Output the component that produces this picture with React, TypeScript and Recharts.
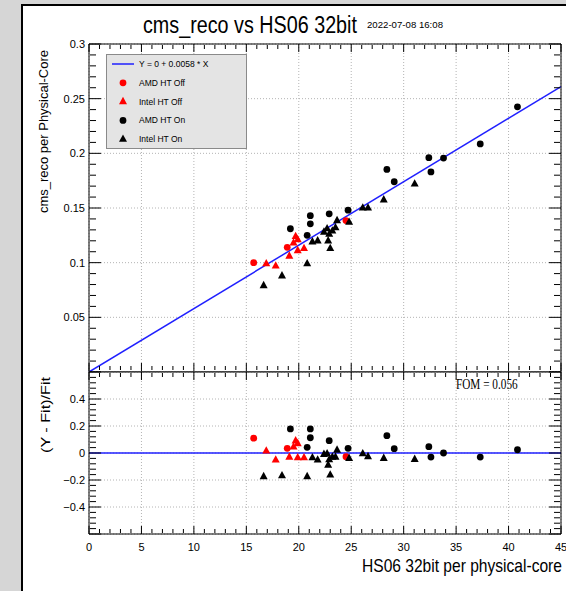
import React from 'react';
import { ScatterChart, Scatter, XAxis, YAxis, CartesianGrid, ReferenceLine } from 'recharts';

const SANS = '"Liberation Sans", Arial, Helvetica, sans-serif';
const SERIF = '"Liberation Serif", "Times New Roman", serif';

// HS06 32bit per physical-core (x), cms_reco per physical core (y), (Y - Fit)/Fit (res)
const amdOffX = [15.7, 18.9, 24.5];
const amdOffY = [0.1, 0.114, 0.1385];
const amdOffRes = [0.11, 0.035, -0.027];

const intelOffX = [16.9, 17.8, 19.1, 19.5, 19.7, 19.9, 19.9, 20.5];
const intelOffY = [0.099, 0.097, 0.106, 0.118, 0.124, 0.121, 0.111, 0.113];
const intelOffRes = [0.015, -0.052, -0.03, 0.045, 0.09, 0.07, -0.035, -0.035];

const amdOnX = [19.2, 20.8, 21.1, 21.1, 22.9, 24.7, 28.4, 29.1, 32.4, 32.6, 33.8, 37.3, 40.85];
const amdOnY = [0.131, 0.125, 0.143, 0.1355, 0.1447, 0.148, 0.1853, 0.174, 0.196, 0.183, 0.1957, 0.2086, 0.2425];
const amdOnRes = [0.178, 0.042, 0.178, 0.113, 0.091, 0.035, 0.128, 0.032, 0.047, -0.03, 0.0, -0.03, 0.024];

const intelOnX = [16.65, 18.4, 20.8, 21.3, 21.8, 22.4, 22.7, 22.8, 22.9, 23.0, 23.2, 23.5, 23.65, 24.8, 26.1, 26.6, 28.1, 31.05];
const intelOnY = [0.079, 0.088, 0.099, 0.119, 0.12, 0.128, 0.131, 0.12, 0.126, 0.113, 0.129, 0.132, 0.1385, 0.137, 0.15, 0.15, 0.1575, 0.172];
const intelOnRes = [-0.175, -0.168, -0.175, -0.035, -0.052, -0.01, -0.005, -0.09, -0.05, -0.163, -0.03, -0.03, 0.022, -0.04, -0.005, -0.027, -0.04, -0.047];

const fitSlope = 0.0058;
const fitOffset = 0;
const fom = 0.056;

const xDomain = [0, 45];
const xMajor = [0, 5, 10, 15, 20, 25, 30, 35, 40, 45];
const xMinor = Array.from({ length: 46 }, (_, i) => i).filter((v) => v % 5 !== 0);

const topDomain = [0, 0.3];
const topMajor = [0, 0.05, 0.1, 0.15, 0.2, 0.25, 0.3];
const topLabels = [0.05, 0.1, 0.15, 0.2, 0.25, 0.3];
const topMinor = Array.from({ length: 31 }, (_, i) => i / 100).filter((_, i) => i % 5 !== 0);

const resDomain = [-0.6, 0.6];
const resMajor = [-0.6, -0.4, -0.2, 0, 0.2, 0.4, 0.6];
const resLabels = [-0.4, -0.2, 0, 0.2, 0.4];
const resMinor = Array.from({ length: 31 }, (_, i) => -0.6 + i * 0.04).filter((_, i) => i % 5 !== 0);

const legendItems = [
  { label: 'Y = 0 + 0.0058 * X', kind: 'line', color: '#2020ff' },
  { label: 'AMD HT Off', kind: 'circle', color: '#ff0000' },
  { label: 'Intel HT Off', kind: 'triangle', color: '#ff0000' },
  { label: 'AMD HT On', kind: 'circle', color: '#000000' },
  { label: 'Intel HT On', kind: 'triangle', color: '#000000' },
];

const zip = (xs: number[], ys: number[]) => xs.map((x, i) => ({ x, y: ys[i] }));

const dot = (color: string) => (p: any) => <circle cx={p.cx} cy={p.cy} r={3.4} fill={color} />;
const tri = (color: string) => (p: any) => (
  <polygon
    points={`${p.cx},${p.cy - 4.8} ${p.cx - 4},${p.cy + 2.6} ${p.cx + 4},${p.cy + 2.6}`}
    fill={color}
  />
);

const NoLabel = () => <g />;
const tickStyle = { fill: '#000', fontSize: 11, fontFamily: SANS };
const fmt = (v: number) => String(Math.round(v * 1000) / 1000).replace('-', '\u2212');

function frameAxes(yDomain: number[], yMajor: number[], yMinor: number[], yLabels: number[], xLabels: boolean) {
  const xc = { type: 'number' as const, dataKey: 'x', domain: xDomain, allowDataOverflow: true, stroke: '#000' };
  const yc = { type: 'number' as const, dataKey: 'y', domain: yDomain, allowDataOverflow: true, stroke: '#000' };
  return [
    xLabels ? (
      <XAxis key="x" xAxisId="x" {...xc} orientation="bottom" height={57} ticks={xMajor} interval={0}
        tickSize={0} tickMargin={9} tickLine={false} axisLine tick={tickStyle} />
    ) : (
      <XAxis key="x" xAxisId="x" {...xc} orientation="bottom" mirror height={1} ticks={xMajor}
        tickSize={0} tickLine={false} axisLine tick={NoLabel} />
    ),
    <XAxis key="xb" xAxisId="xb" {...xc} orientation="bottom" mirror height={1} ticks={xMajor} interval={0}
      tickSize={8} tickLine axisLine={false} tick={NoLabel} />,
    <XAxis key="xbm" xAxisId="xbm" {...xc} orientation="bottom" mirror height={1} ticks={xMinor} interval={0}
      tickSize={4} tickLine axisLine={false} tick={NoLabel} />,
    <XAxis key="xt" xAxisId="xt" {...xc} orientation="top" mirror height={1} ticks={xMajor} interval={0}
      tickSize={8} tickLine axisLine tick={NoLabel} />,
    <XAxis key="xtm" xAxisId="xtm" {...xc} orientation="top" mirror height={1} ticks={xMinor} interval={0}
      tickSize={4} tickLine axisLine={false} tick={NoLabel} />,
    <YAxis key="y" yAxisId="y" {...yc} orientation="left" width={89} ticks={yLabels} interval={0}
      tickSize={0} tickMargin={4} tickLine={false} axisLine tick={tickStyle} tickFormatter={fmt} />,
    <YAxis key="yl" yAxisId="yl" {...yc} orientation="left" mirror width={1} ticks={yMajor} interval={0}
      tickSize={12} tickLine axisLine={false} tick={NoLabel} />,
    <YAxis key="ylm" yAxisId="ylm" {...yc} orientation="left" mirror width={1} ticks={yMinor} interval={0}
      tickSize={6} tickLine axisLine={false} tick={NoLabel} />,
    <YAxis key="yr" yAxisId="yr" {...yc} orientation="right" mirror width={1} ticks={yMajor} interval={0}
      tickSize={12} tickLine axisLine tick={NoLabel} />,
    <YAxis key="yrm" yAxisId="yrm" {...yc} orientation="right" mirror width={1} ticks={yMinor} interval={0}
      tickSize={6} tickLine axisLine={false} tick={NoLabel} />,
  ];
}

function series(key: 'y' | 'res') {
  const pick = (xs: number[], ys: number[], rs: number[]) => zip(xs, key === 'y' ? ys : rs);
  return [
    <Scatter key="ao" xAxisId="x" yAxisId="y" data={pick(amdOffX, amdOffY, amdOffRes)} shape={dot('#ff0000')} isAnimationActive={false} />,
    <Scatter key="io" xAxisId="x" yAxisId="y" data={pick(intelOffX, intelOffY, intelOffRes)} shape={tri('#ff0000')} isAnimationActive={false} />,
    <Scatter key="an" xAxisId="x" yAxisId="y" data={pick(amdOnX, amdOnY, amdOnRes)} shape={dot('#000000')} isAnimationActive={false} />,
    <Scatter key="in" xAxisId="x" yAxisId="y" data={pick(intelOnX, intelOnY, intelOnRes)} shape={tri('#000000')} isAnimationActive={false} />,
  ];
}

const grid = <CartesianGrid xAxisId="xb" yAxisId="yl" stroke="#b4b4b4" strokeDasharray="1 2" />;

const Overlay = () => (
  <svg width={566} height={591} style={{ position: 'absolute', left: 0, top: 0, pointerEvents: 'none' }}>
    <text transform="translate(143 33) scale(0.823 1)" fontFamily={SANS} fontSize={24}>
      cms_reco vs HS06 32bit
    </text>
    <text x={367} y={28} fontFamily={SANS} fontSize={9} textLength={76} lengthAdjust="spacingAndGlyphs">
      2022-07-08 16:08
    </text>
    <text x={47.5} y={50} transform="rotate(-90 47.5 50)" textAnchor="end" fontFamily={SANS} fontSize={12}
      textLength={163} lengthAdjust="spacingAndGlyphs">
      cms_reco per Physical-Core
    </text>
    <text x={50} y={377} transform="rotate(-90 50 377)" textAnchor="end" fontFamily={SANS} fontSize={13}
      textLength={76} lengthAdjust="spacingAndGlyphs">
      (Y - Fit)/Fit
    </text>
    <text transform="translate(362 572) scale(0.842 1)" fontFamily={SANS} fontSize={18.5}>
      HS06 32bit per physical-core
    </text>
    <text transform="translate(456 389) scale(0.75 1)" fontFamily={SERIF} fontSize={15}>
      {`FOM = ${fom}`}
    </text>
    <rect x={106.5} y={54.5} width={140} height={94} fill="#e4e4e4" stroke="#8a8a8a" />
    {legendItems.map((it, i) => {
      const cy = 64 + i * 18.8;
      return (
        <g key={it.label}>
          {it.kind === 'line' && <line x1={112} x2={134} y1={cy} y2={cy} stroke={it.color} strokeWidth={1.5} />}
          {it.kind === 'circle' && dot(it.color)({ cx: 123, cy })}
          {it.kind === 'triangle' && tri(it.color)({ cx: 123, cy })}
          <text x={139} y={cy + 3} fontFamily={SANS} fontSize={8.5}>
            {it.label}
          </text>
        </g>
      );
    })}
  </svg>
);

export default function App() {
  return (
    <div style={{ position: 'absolute', left: 0, top: 0, width: 566, height: 591, background: '#fff', overflow: 'hidden' }}>
      <div style={{ position: 'absolute', left: 0, top: 0 }}>
        <ScatterChart width={566} height={372} margin={{ top: 44, right: 5, bottom: 0, left: 0 }}>
          {grid}
          {frameAxes(topDomain, topMajor, topMinor, topLabels, false)}
          <ReferenceLine
            xAxisId="x"
            yAxisId="y"
            segment={[
              { x: xDomain[0], y: fitOffset + fitSlope * xDomain[0] },
              { x: xDomain[1], y: fitOffset + fitSlope * xDomain[1] },
            ]}
            stroke="#2020ff"
            strokeWidth={1.5}
          />
          {series('y')}
        </ScatterChart>
      </div>
      <div style={{ position: 'absolute', left: 0, top: 371 }}>
        <ScatterChart width={566} height={220} margin={{ top: 1, right: 5, bottom: 0, left: 0 }}>
          {grid}
          {frameAxes(resDomain, resMajor, resMinor, resLabels, true)}
          <ReferenceLine xAxisId="x" yAxisId="y" y={0} stroke="#2020ff" strokeWidth={1.5} />
          {series('res')}
        </ScatterChart>
      </div>
      <div style={{ position: 'absolute', left: 0, top: 0, width: 566, height: 4, background: '#d6d6d6' }} />
      <div style={{ position: 'absolute', left: 0, top: 0, width: 21, height: 591, background: '#d6d6d6' }} />
      <div style={{ position: 'absolute', left: 21, top: 4, width: 545, height: 2, background: '#000' }} />
      <div style={{ position: 'absolute', left: 21, top: 4, width: 2, height: 587, background: '#000' }} />
      <Overlay />
    </div>
  );
}
